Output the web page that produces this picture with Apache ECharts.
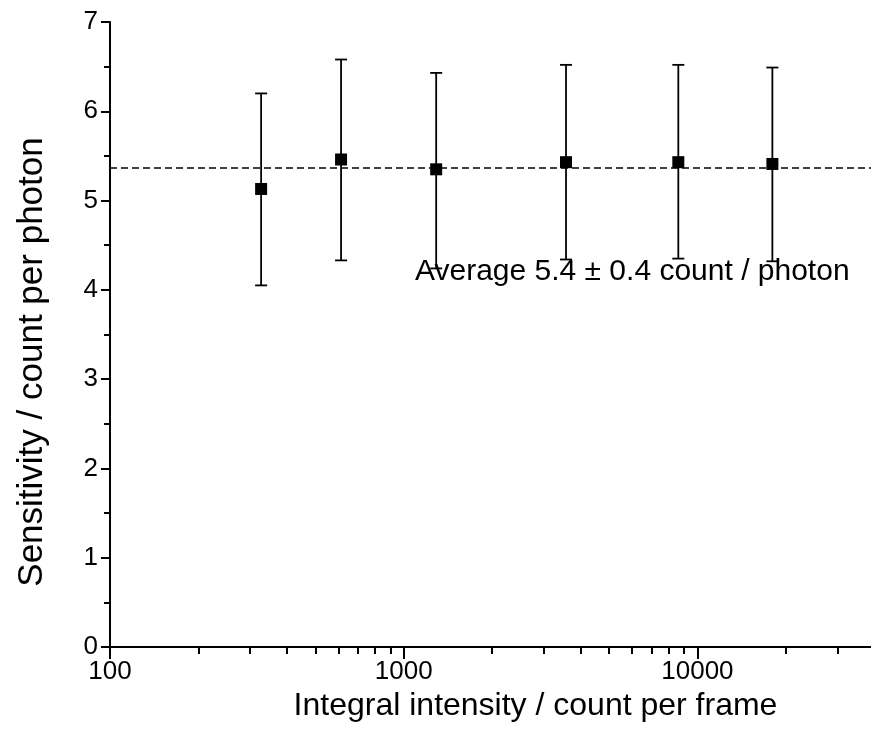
<!DOCTYPE html>
<html>
<head>
<meta charset="utf-8">
<script src="https://cdn.jsdelivr.net/npm/echarts@6/dist/echarts.min.js"></script>
<style>
  html, body { margin: 0; padding: 0; background: #fff; }
  #chart { width: 871px; height: 740px; }
</style>
</head>
<body>
<div id="chart"></div>
<script>
// Integral intensity (count per frame) of each measurement
const intensity = [327, 612, 1290, 3570, 8610, 18000];
// Sensitivity (count per photon) and its error bar limits
const sensitivity = [5.13, 5.46, 5.35, 5.43, 5.43, 5.41];
const sensLow = [4.05, 4.33, 4.24, 4.34, 4.35, 4.32];
const sensHigh = [6.20, 6.58, 6.43, 6.52, 6.52, 6.49];
// Mean sensitivity drawn as a dashed reference line
const averageSensitivity = 5.37;
const annotationText = 'Average 5.4 \u00b1 0.4 count / photon';

// Axis ticks
const xMajorTicks = [100, 1000, 10000];
const xMinorTicks = [200, 300, 400, 500, 600, 700, 800, 900,
                     2000, 3000, 4000, 5000, 6000, 7000, 8000, 9000,
                     20000, 30000];
const xMin = 100, xMax = 39000;
const yMin = 0, yMax = 7;

const FONT = "'Liberation Sans', Arial, sans-serif";
const chart = echarts.init(document.getElementById('chart'), null, { renderer: 'canvas' });

const errorData = intensity.map((x, i) => [x, sensLow[i], sensHigh[i]]);
const pointData = intensity.map((x, i) => [x, sensitivity[i]]);

const option = {
  backgroundColor: '#ffffff',
  animation: false,
  grid: { left: 110, right: 0, top: 22, bottom: 93, containLabel: false },
  xAxis: [
    {
      type: 'log', logBase: 10, min: xMin, max: xMax,
      position: 'bottom',
      name: 'Integral intensity / count per frame',
      nameLocation: 'middle', nameGap: 35,
      nameTextStyle: { color: '#000', fontSize: 32, fontFamily: FONT, padding: [0, 0, 0, 90] },
      axisLine: { show: true, lineStyle: { color: '#000', width: 2 } },
      axisTick: { show: true, inside: false, length: 12, customValues: xMajorTicks,
                  lineStyle: { color: '#000', width: 2 } },
      axisLabel: { show: true, customValues: xMajorTicks, margin: 12,
                   color: '#000', fontSize: 26, fontFamily: FONT,
                   formatter: v => String(Math.round(v)) },
      splitLine: { show: false }
    },
    {
      type: 'log', logBase: 10, min: xMin, max: xMax,
      position: 'bottom', offset: 0,
      axisLine: { show: false },
      axisTick: { show: true, inside: false, length: 7, customValues: xMinorTicks,
                  lineStyle: { color: '#000', width: 2 } },
      axisLabel: { show: false },
      splitLine: { show: false }
    }
  ],
  yAxis: {
    type: 'value', min: yMin, max: yMax, interval: 1,
    name: 'Sensitivity / count per photon',
    nameLocation: 'middle', nameGap: 60, nameRotate: 90,
    nameTextStyle: { color: '#000', fontSize: 35, fontFamily: FONT, padding: [0, 55, 0, 0] },
    axisLine: { show: true, lineStyle: { color: '#000', width: 2 } },
    axisTick: { show: true, inside: false, length: 9, lineStyle: { color: '#000', width: 2 } },
    minorTick: { show: true, splitNumber: 2, length: 6, lineStyle: { color: '#000', width: 2 } },
    axisLabel: { color: '#000', fontSize: 26, fontFamily: FONT, margin: 12 },
    splitLine: { show: false }
  },
  series: [
    {
      type: 'custom',
      name: 'error',
      xAxisIndex: 0,
      data: errorData,
      z: 3,
      renderItem: function (params, api) {
        const x = api.value(0);
        const lo = api.coord([x, api.value(1)]);
        const hi = api.coord([x, api.value(2)]);
        const cap = 6;
        const style = { stroke: '#000', lineWidth: 1.8 };
        return {
          type: 'group',
          children: [
            { type: 'line', shape: { x1: lo[0], y1: lo[1], x2: hi[0], y2: hi[1] }, style },
            { type: 'line', shape: { x1: hi[0] - cap, y1: hi[1], x2: hi[0] + cap, y2: hi[1] }, style },
            { type: 'line', shape: { x1: lo[0] - cap, y1: lo[1], x2: lo[0] + cap, y2: lo[1] }, style }
          ]
        };
      }
    },
    {
      type: 'scatter',
      name: 'sensitivity',
      xAxisIndex: 0,
      data: pointData,
      symbol: 'rect',
      symbolSize: 12,
      itemStyle: { color: '#000', opacity: 1 },
      z: 4,
      markLine: {
        silent: true,
        symbol: 'none',
        label: { show: false },
        lineStyle: { color: '#000', type: [7, 4], width: 1.7 },
        data: [{ yAxis: averageSensitivity }]
      }
    }
  ],
  graphic: [
    {
      type: 'text',
      left: 415, top: 257,
      style: { text: annotationText, fill: '#000', fontSize: 30, fontFamily: FONT }
    }
  ]
};

chart.setOption(option);
</script>
</body>
</html>
